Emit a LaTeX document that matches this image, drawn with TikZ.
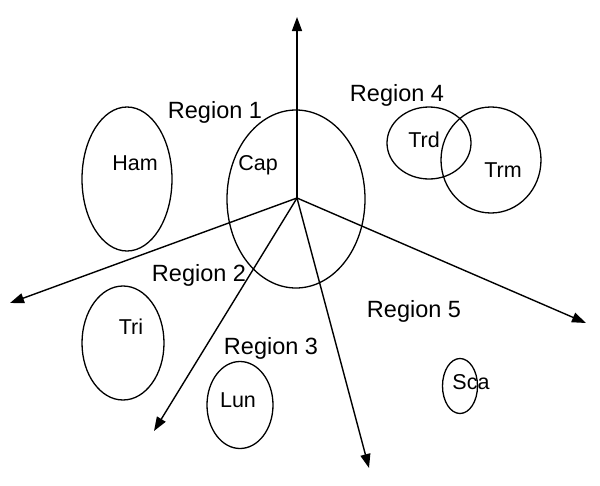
\documentclass[tikz,border=0pt]{standalone}
\usepackage{fontspec}
\setmainfont{Liberation Sans}
\usetikzlibrary{arrows.meta,shapes.geometric}

\begin{document}
\begin{tikzpicture}[x=1pt,y=-1pt,>={Triangle[length=14pt,width=10pt]},
group/.style={draw,ellipse,line width=1.3pt,inner sep=0pt},
axis/.style={->,line width=1.4pt},
grplab/.style={font=\fontsize{21.5}{26}\selectfont,inner sep=0pt},
reglab/.style={font=\fontsize{23.5}{28}\selectfont,inner sep=0pt}]
\useasboundingbox (0,0) rectangle (600,485);
% groups
\node[group,minimum width=138pt,minimum height=178pt] (cap) at (296,199) {};
\node[group,minimum width=90pt,minimum height=144pt] (ham) at (127,179) {};
\node[group,minimum width=82pt,minimum height=114pt] (tri) at (123,343) {};
\node[group,minimum width=66pt,minimum height=87pt] (lun) at (240,405) {};
\node[group,minimum width=35pt,minimum height=55pt] (sca) at (460,386) {};
\node[group,minimum width=84pt,minimum height=72pt] (trd) at (429,143) {};
\node[group,minimum width=100pt,minimum height=106pt] (trm) at (491,160) {};
% axes
\coordinate (o) at (297,198);
\coordinate (up) at (297,17);
\coordinate (west) at (10,303);
\coordinate (sw) at (154,431);
\coordinate (south) at (369,468);
\coordinate (east) at (586,323);
\draw[axis] (o)--(up);
\draw[axis] (o)--(west);
\draw[axis] (o)--(sw);
\draw[axis] (o)--(south);
\draw[axis] (o)--(east);
% group labels
\node[grplab] (capname) at (258,165) {Cap};
\node[grplab] (hamname) at (135,163) {Ham};
\node[grplab] (triname) at (131,327) {Tri};
\node[grplab] (lunname) at (238,400) {Lun};
\node[grplab] (scaname) at (471,382) {Sca};
\node[grplab] (trdname) at (424,140) {Trd};
\node[grplab] (trmname) at (503,170) {Trm};
% regions
\node[reglab] (reg1) at (215,112) {Region 1};
\node[reglab] (reg2) at (199,275) {Region 2};
\node[reglab] (reg3) at (271,348) {Region 3};
\node[reglab] (reg4) at (397,95) {Region 4};
\node[reglab] (reg5) at (414,311) {Region 5};
\end{tikzpicture}
\end{document}
